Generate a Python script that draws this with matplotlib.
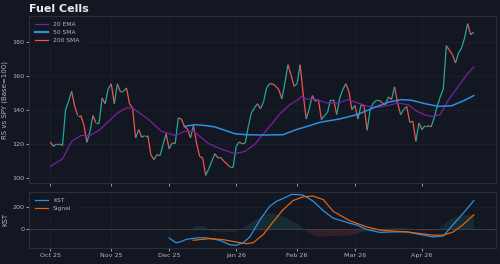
import matplotlib
matplotlib.use("Agg")
import matplotlib.pyplot as plt
import numpy as np
from matplotlib.collections import LineCollection
from matplotlib.lines import Line2D

# ---------------- data ----------------
title = "Fuel Cells"
tick_pos = [0, 20, 39, 61, 81, 100, 122]
tick_labels = ["Oct 25", "Nov 25", "Dec 25", "Jan 26", "Feb 26", "Mar 26", "Apr 26"]

rs_values = [
    121.2, 118.6, 120.1, 120.1, 119.0, 140.3, 145.2, 151.1, 142.2, 136.8,
    136.8, 131.4, 121.0, 127.3, 136.8, 132.4, 132.4, 147.2, 143.8, 152.5,
    155.5, 143.8, 155.5, 150.7, 151.0, 153.1, 143.8, 141.3, 123.6, 128.5,
    124.0, 125.0, 125.0, 113.7, 110.8, 113.7, 113.2, 119.6, 126.1, 117.1,
    120.6, 120.3, 135.4, 134.8, 130.4, 128.9, 123.6, 130.9, 120.6, 112.7,
    111.8, 101.5, 105.3, 109.8, 114.3, 111.8, 112.0, 109.8, 108.2, 106.3,
    106.3, 118.6, 121.2, 120.1, 120.6, 130.4, 138.3, 141.3, 143.8, 140.7,
    145.0, 153.1, 155.6, 155.5, 154.1, 152.1, 146.6, 156.0, 166.8, 160.9,
    154.1, 155.5, 166.8, 149.5, 134.8, 140.7, 148.6, 145.2, 146.2, 134.4,
    136.8, 138.7, 146.2, 146.2, 137.3, 147.2, 152.1, 155.6, 151.1, 140.3,
    142.7, 134.8, 143.2, 142.2, 128.1, 140.3, 144.2, 145.6, 145.8, 144.2,
    143.2, 147.8, 146.2, 153.7, 144.2, 137.3, 140.3, 142.2, 132.8, 133.4,
    121.6, 132.4, 128.5, 130.9, 130.9, 130.1, 135.4, 142.2, 147.8, 152.5,
    178.1, 175.3, 172.7, 167.8, 173.7, 176.7, 182.6, 191.0, 184.5, 186.1,
]

ema_idx = [0, 4, 7, 10, 13, 16, 20, 22, 25, 27, 30, 32, 36.5, 41, 44, 47, 52, 56,
           60.6, 64, 67, 69, 72, 75.4, 78.6, 81.4, 82.5, 84, 87.4, 90.7, 94.5, 97.5,
           101.6, 105, 108, 111, 114, 117.5, 120.3, 123, 125, 128, 130.7, 134, 136.7, 139]
ema_vals = [106.8, 111.2, 121.6, 125.0, 125.0, 128.1, 134.8, 138.3, 141.3, 141.3, 137.3,
            134.8, 127.5, 125.0, 127.5, 127.5, 120.2, 117.1, 114.3, 115.7, 119.6, 124.0,
            130.4, 137.9, 143.2, 146.2, 148.1, 146.6, 146.2, 144.2, 144.2, 146.2, 143.8,
            141.9, 141.8, 142.8, 144.2, 143.2, 139.3, 137.2, 136.3, 137.3, 146.2, 154.1,
            160.9, 165.5]

sma_idx = [44, 47.4, 51, 54, 57.3, 60.6, 64, 70, 76.4, 80.8, 85.2, 88.5, 95, 100.6,
           106.6, 111, 115.3, 118.6, 123, 127.4, 131.8, 136, 139]
sma_vals = [130.4, 131.4, 130.9, 130.1, 128.1, 126.1, 125.5, 125.3, 125.5, 128.5, 130.9,
            132.8, 134.8, 137.3, 141.7, 144.7, 146.2, 145.8, 143.8, 142.2, 142.6, 145.8,
            148.6]

kst_idx = [39, 41.2, 42.5, 44.7, 49, 51.3, 55.6, 58.9, 61, 63.3, 65.5, 68.8, 72, 74.3,
           76.4, 79.2, 80.8, 83, 86.3, 89.6, 92.9, 98.4, 100.6, 103.8, 108.2, 112.6,
           117, 121.4, 125.7, 129, 132.3, 135.6, 139]
kst_vals = [-80, -123, -117, -92, -77, -80, -101, -141, -147, -123, -71, 83, 206, 252,
            277, 313, 313, 307, 252, 166, 98, 52, 37, -3, -30, -25, -25, -49, -71, -62,
            43, 145, 258]

sig_idx = [46.9, 52.3, 56.7, 61, 64.4, 66.6, 69.9, 73.2, 76.4, 79.7, 83, 86.3, 89.6,
           92.9, 98.4, 103.8, 108.2, 112.6, 117, 121.4, 125.7, 129, 132.3, 135.6, 139]
sig_vals = [-101, -86, -95, -117, -132, -123, -49, 68, 175, 258, 292, 298, 267, 160, 74,
            21, -9, -18, -25, -40, -55, -55, -25, 43, 129]

hist_idx = [47, 49, 51, 52, 55, 58, 61, 63, 65.5, 70, 73, 76.4, 79.7, 83, 85, 88.5, 91,
            95, 99, 103, 106, 108, 110, 114, 117, 119, 121, 124, 127, 129, 132, 135.6, 139]
hist_vals = [21, 30, 25, -10, -25, -25, -25, 5, 52, 129, 145, 113, 68, 12, -40, -71, -62,
             -62, -55, -25, -12, -5, 2, 12, 10, 0, -15, -15, -12, 37, 98, 123, 129]

# ---------------- style ----------------
BG = "#131722"
GRID = "#1e2230"
SPINE = "#2a2e39"
TXT = "#b2b5be"
TEAL = "#26a69a"
RED = "#ef5350"
PURPLE = "#7b1fa2"
BLUE = "#2d8fe0"
ORANGE = "#e0650c"

plt.rcParams["font.family"] = ["DejaVu Sans"]

fig = plt.figure(figsize=(5.0, 2.64), dpi=100, facecolor=BG)
ax = fig.add_axes([0.058, 0.307, 0.934, 0.632])
ax2 = fig.add_axes([0.058, 0.061, 0.934, 0.212], sharex=ax)

for a in (ax, ax2):
    a.set_facecolor(BG)
    for s in a.spines.values():
        s.set_color(SPINE)
        s.set_linewidth(0.8)
    a.tick_params(colors=TXT, labelsize=4.6, length=2, width=0.6, pad=1.5)
    a.grid(True, color=GRID, linewidth=0.5)
    a.set_axisbelow(True)

# price line coloured by direction
x = np.arange(len(rs_values))
y = np.array(rs_values)
pts = np.column_stack([x, y]).reshape(-1, 1, 2)
segs = np.concatenate([pts[:-1], pts[1:]], axis=1)
cols = [TEAL if y[i + 1] >= y[i] else RED for i in range(len(y) - 1)]
lc = LineCollection(segs, colors=cols, linewidths=0.9, zorder=3)
ax.add_collection(lc)
ax.plot(x, y, alpha=0)  # for autoscaling

ax.plot(ema_idx, ema_vals, color=PURPLE, lw=0.9, zorder=4)
ax.plot(sma_idx, sma_vals, color=BLUE, lw=1.1, zorder=4)

ax.set_yticks([100, 120, 140, 160, 180])
ax.set_ylabel("RS vs SPY (Base=100)", color=TXT, fontsize=5, labelpad=3)
ax.set_title(title, loc="left", color="#e6e8ec", fontsize=8, fontweight="bold", pad=3)
plt.setp(ax.get_xticklabels(), visible=False)

handles = [Line2D([], [], color=PURPLE, lw=0.9),
           Line2D([], [], color=BLUE, lw=1.6),
           Line2D([], [], color=RED, lw=0.9)]
leg = ax.legend(handles, ["20 EMA", "50 SMA", "200 SMA"], loc="upper left",
                fontsize=4.3, frameon=True, facecolor=BG, edgecolor=BG,
                labelcolor=TXT, handlelength=2.2, borderpad=0.5, labelspacing=0.45)

# KST panel
hx = np.array(hist_idx, dtype=float)
hv = np.array(hist_vals, dtype=float)
ax2.fill_between(hx, 0, hv, where=hv >= 0, interpolate=True, color=TEAL, alpha=0.15, lw=0)
ax2.fill_between(hx, 0, hv, where=hv <= 0, interpolate=True, color=RED, alpha=0.15, lw=0)
ax2.axhline(0, color="#3a3e49", lw=0.7)
ax2.plot(kst_idx, kst_vals, color=BLUE, lw=0.9, label="KST")
ax2.plot(sig_idx, sig_vals, color=ORANGE, lw=0.9, label="Signal")
ax2.set_yticks([0, 200])
ax2.set_ylabel("KST", color=TXT, fontsize=5, labelpad=3)
ax2.legend(loc="upper left", fontsize=4.3, frameon=True, facecolor=BG, edgecolor=BG,
           labelcolor=TXT, handlelength=2.2, borderpad=0.5, labelspacing=0.45)

ax2.set_xticks(tick_pos)
ax2.set_xticklabels(tick_labels)
ax.set_xlim(-7.0, 146.3)

fig.savefig("out.png", dpi=100, facecolor=BG)
